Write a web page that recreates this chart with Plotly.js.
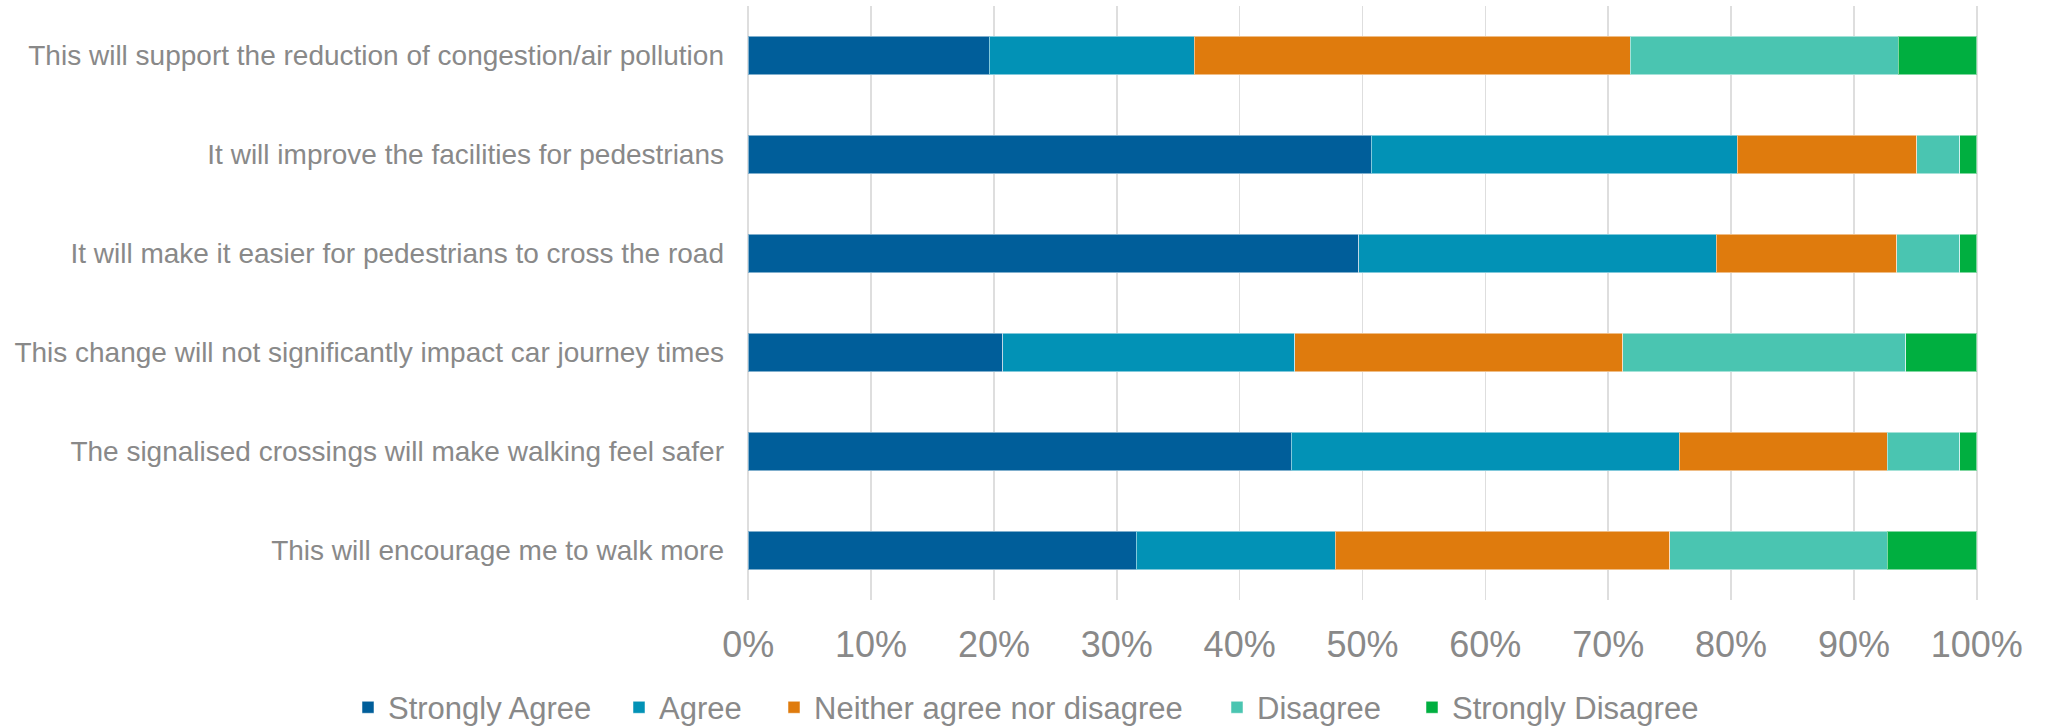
<!DOCTYPE html>
<html>
<head>
<meta charset="utf-8">
<script src="https://cdn.plot.ly/plotly-3.0.1.min.js"></script>
<style>html,body{margin:0;padding:0;background:#fff;}#chart{width:2049px;height:728px;}</style>
</head>
<body>
<div id="chart"></div>
<script>
// Statements, listed top to bottom
const statements = [
  "This will support the reduction of congestion/air pollution",
  "It will improve the facilities for pedestrians",
  "It will make it easier for pedestrians to cross the road",
  "This change will not significantly impact car journey times",
  "The signalised crossings will make walking feel safer",
  "This will encourage me to walk more"
];
const seriesNames = ["Strongly Agree", "Agree", "Neither agree nor disagree", "Disagree", "Strongly Disagree"];
// percentages per statement (same order as statements)
const stronglyAgree = [19.6, 50.7, 49.7, 20.7, 44.2, 31.6];
const agree         = [16.7, 29.8, 29.1, 23.8, 31.6, 16.2];
const neither       = [35.5, 14.6, 14.7, 26.7, 16.9, 27.2];
const disagree      = [21.8,  3.5,  5.1, 23.0,  5.9, 17.7];
const stronglyDis   = [ 6.4,  1.4,  1.4,  5.8,  1.4,  7.3];
const colors = ["#005E9A", "#0292B6", "#DF7B0D", "#4AC5B1", "#00AF40"];
const tickVals = [0,10,20,30,40,50,60,70,80,90,100];
const tickText = ["0%","10%","20%","30%","40%","50%","60%","70%","80%","90%","100%"];

// legend left positions (px in the page)
const legendX = [348, 619, 774, 1217, 1412];
const legendIds = ["legend", "legend2", "legend3", "legend4", "legend5"];

const allSeries = [stronglyAgree, agree, neither, disagree, stronglyDis];
const traces = allSeries.map((vals, i) => ({
  type: "bar",
  orientation: "h",
  name: seriesNames[i],
  x: vals,
  y: statements,
  legend: legendIds[i],
  marker: {color: colors[i], line: {color: "rgba(255,255,255,0.5)", width: 1}},
  hoverinfo: "x+name"
}));

const layout = {
  width: 2049, height: 728,
  barmode: "stack",
  bargap: 0.61,
  paper_bgcolor: "#ffffff",
  plot_bgcolor: "#ffffff",
  font: {family: "Liberation Sans, Arial, sans-serif", color: "#898989"},
  margin: {l: 747, r: 71, t: 6, b: 128, pad: 0},
  xaxis: {
    range: [-0.1, 100.1],
    tickvals: tickVals,
    ticktext: tickText,
    showgrid: true,
    gridcolor: "#DEDEDE",
    gridwidth: 1.5,
    zeroline: false,
    showline: false,
    ticks: "",
    ticklabelstandoff: 20,
    tickfont: {size: 36, color: "#898989"},
    fixedrange: true
  },
  yaxis: {
    autorange: "reversed",
    type: "category",
    showgrid: false,
    zeroline: false,
    showline: false,
    ticks: "",
    ticklabelstandoff: 22,
    tickfont: {size: 28, color: "#898989"},
    fixedrange: true
  },
  showlegend: true
};
legendIds.forEach((id, i) => {
  layout[id] = {
    orientation: "h",
    xref: "container", yref: "container",
    x: legendX[i] / 2049, xanchor: "left",
    y: 0.028, yanchor: "middle",
    bgcolor: "rgba(0,0,0,0)",
    font: {size: 31, color: "#898989"},
    itemwidth: 30
  };
});

Plotly.newPlot("chart", traces, layout, {displayModeBar: false, staticPlot: true});
</script>
</body>
</html>
